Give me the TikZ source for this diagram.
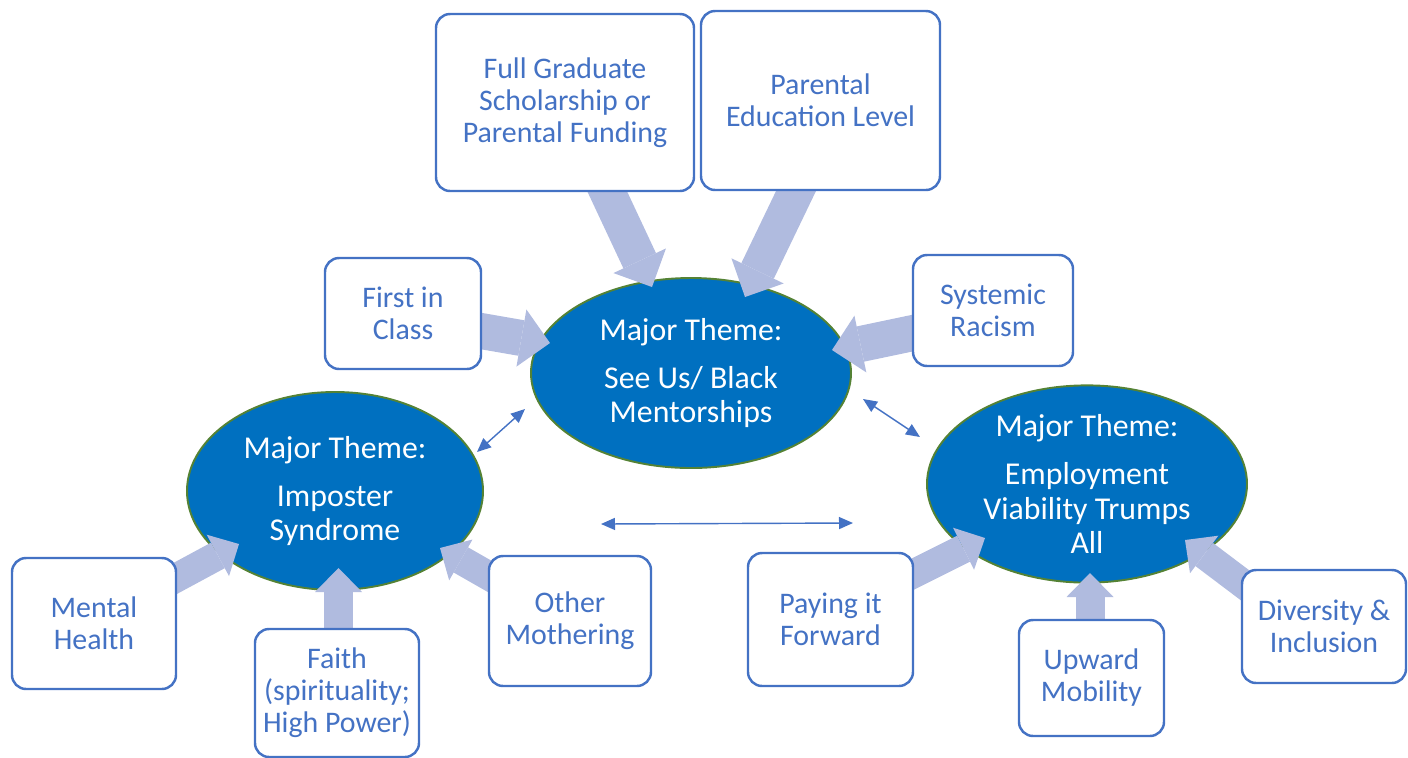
\documentclass[tikz,border=0pt]{standalone}
\usepackage{fontspec}
\setmainfont{Carlito}
\usepackage{tikz}
\usetikzlibrary{arrows.meta,shapes.geometric,backgrounds,calc}
\pgfdeclarelayer{shafts}
\pgfsetlayers{background,shafts,main}
\definecolor{mapblue}{HTML}{4472C4}
\definecolor{mapfill}{HTML}{0070C0}
\definecolor{mapgreen}{HTML}{548235}
\definecolor{maplilac}{HTML}{B0BBDF}

\begin{document}
\begin{tikzpicture}[
  factor/.style={rectangle, rounded corners=8pt, draw=mapblue, line width=1.4pt, fill=white,
                 text=mapblue, align=center, inner sep=0pt, outer sep=0pt,
                 font=\fontsize{17}{18.2}\selectfont},
  theme/.style={ellipse, draw=mapgreen, line width=1.1pt, fill=mapfill, text=white,
                align=center, inner sep=0pt, outer sep=0pt,
                font=\fontsize{18.1}{19.6}\selectfont},
  bigblk/.style={-{Triangle[length=0.58cm, width=1.16cm, line width=0pt]}, maplilac,
                 line width=0.72cm, shorten <=-0.3cm},
  blk/.style={-{Triangle[length=0.48cm, width=0.94cm, line width=0pt]}, maplilac,
              line width=0.58cm, shorten <=-0.3cm},
  link/.style={{Triangle[length=0.28cm, width=0.24cm]}-{Triangle[length=0.28cm, width=0.24cm]},
               mapblue, line width=0.8pt},
]
\useasboundingbox (0,0) rectangle (28.16,-15.14);

% the three major themes
\begin{scope}[on background layer]
\node[theme, minimum width=6.40cm, minimum height=3.80cm] (seeus) at (13.82,-7.46)
   {Major Theme:\\[8pt] See Us/ Black\\ Mentorships};
\node[theme, minimum width=5.92cm, minimum height=3.96cm] (imp) at (6.70,-9.82)
   {Major Theme:\\[8pt] Imposter\\ Syndrome};
\node[theme, minimum width=6.40cm, minimum height=3.76cm] (emp) at (21.74,-9.68)
   {Major Theme:\\[8pt] Employment\\ Viability Trumps\\ All};
\end{scope}

% factors feeding the themes
\node[factor, minimum width=5.16cm, minimum height=3.54cm] (fgs) at (11.30,-2.05)
   {Full Graduate\\ Scholarship or\\ Parental Funding};
\node[factor, minimum width=4.78cm, minimum height=3.58cm] (pel) at (16.41,-2.01)
   {Parental\\ Education Level};
\node[factor, minimum width=3.12cm, minimum height=2.22cm] (fic) at (8.06,-6.27)
   {First in\\ Class};
\node[factor, minimum width=3.20cm, minimum height=2.22cm] (sys) at (19.86,-6.21)
   {Systemic\\ Racism};
\node[factor, minimum width=3.28cm, minimum height=2.62cm] (mh) at (1.88,-12.47)
   {Mental\\ Health};
\node[factor, minimum width=3.28cm, minimum height=2.56cm] (faith) at (6.74,-13.86)
   {Faith\\ (spirituality;\\ High Power)};
\node[factor, minimum width=3.24cm, minimum height=2.60cm] (om) at (11.40,-12.42)
   {Other\\ Mothering};
\node[factor, minimum width=3.30cm, minimum height=2.66cm] (pif) at (16.61,-12.39)
   {Paying it\\ Forward};
\node[factor, minimum width=2.90cm, minimum height=2.32cm] (um) at (21.83,-13.56)
   {Upward\\ Mobility};
\node[factor, minimum width=3.28cm, minimum height=2.26cm] (di) at (26.48,-12.53)
   {Diversity \&\\ Inclusion};

% block arrows, tucked under the boxes
\begin{pgfonlayer}{shafts}
\draw[bigblk] ([xshift=0.84cm]fgs.south) -- ($(seeus.center)+(-0.78,1.72)$);
\draw[bigblk] ([xshift=-0.48cm]pel.south) -- ($(seeus.center)+(1.08,1.52)$);
\draw[bigblk] ([yshift=-0.35cm]fic.east) -- ($(seeus.center)+(-2.82,0.60)$);
\draw[bigblk] ([yshift=-0.45cm]sys.west) -- ($(seeus.center)+(2.82,0.46)$);
\draw[blk] ([yshift=0.91cm]mh.east) -- ($(imp.center)+(-1.92,-1.06)$);
\draw[blk] ([xshift=0.03cm]faith.north) -- ($(imp.center)+(0.07,-1.54)$);
\draw[blk] ([yshift=0.90cm]om.west) -- ($(imp.center)+(2.10,-1.14)$);
\draw[blk] ([yshift=0.91cm]pif.east) -- ($(emp.center)+(-2.04,-1.08)$);
\draw[blk] ([xshift=-0.03cm]um.north) -- ($(emp.center)+(0.06,-1.78)$);
\draw[blk] ([yshift=0.87cm]di.west) -- ($(emp.center)+(1.96,-1.12)$);
\end{pgfonlayer}

% links between the themes
\draw[link] ($(imp.center)+(2.84,0.78)$) -- ($(seeus.center)+(-3.32,-0.72)$);
\draw[link] ($(seeus.center)+(3.44,-0.52)$) -- ($(emp.center)+(-3.34,0.94)$);
\draw[link] ($(imp.center)+(5.32,-0.66)$) -- ($(emp.center)+(-4.68,-0.78)$);
\end{tikzpicture}
\end{document}
